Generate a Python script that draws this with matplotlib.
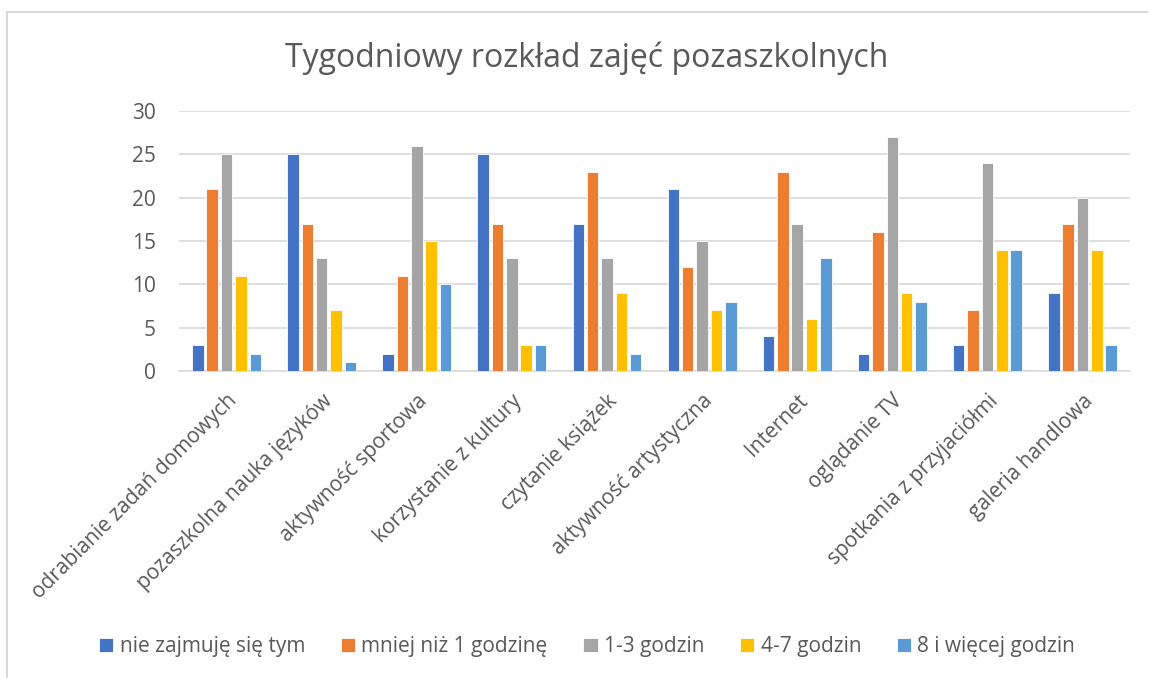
import numpy as np
import matplotlib
matplotlib.use("Agg")
from matplotlib import pyplot as plt
from matplotlib.lines import Line2D

# Categories and series
categories = [
    "odrabianie zadań domowych",
    "pozaszkolna nauka języków",
    "aktywność sportowa",
    "korzystanie z kultury",
    "czytanie książek",
    "aktywność artystyczna",
    "Internet",
    "oglądanie TV",
    "spotkania z przyjaciółmi",
    "galeria handlowa",
]
series_names = [
    "nie zajmuję się tym",
    "mniej niż 1 godzinę",
    "1-3 godzin",
    "4-7 godzin",
    "8 i więcej godzin",
]
nie_zajmuje = [3, 25, 2, 25, 17, 21, 4, 2, 3, 9]
mniej_1h = [21, 17, 11, 17, 23, 12, 23, 16, 7, 17]
godz_1_3 = [25, 13, 26, 13, 13, 15, 17, 27, 24, 20]
godz_4_7 = [11, 7, 15, 3, 9, 7, 6, 9, 14, 14]
godz_8 = [2, 1, 10, 3, 2, 8, 13, 8, 14, 3]
yticks = [0, 5, 10, 15, 20, 25, 30]

series = [nie_zajmuje, mniej_1h, godz_1_3, godz_4_7, godz_8]
colors = ["#4472C4", "#ED7D31", "#A5A5A5", "#FFC000", "#5B9BD5"]

plt.rcParams['font.family'] = ['Open Sans', 'DejaVu Sans']
text_color = "#595959"

fig = plt.figure(figsize=(11.49, 6.78), dpi=100)
ax = fig.add_axes([0.1558, 0.4528, 0.8277, 0.3835])

x = np.arange(len(categories))
step = 0.151
width = 0.121
for i, (vals, col, name) in enumerate(zip(series, colors, series_names)):
    ax.bar(x + (i - 2) * step, vals, width, color=col, label=name,
           edgecolor="white", linewidth=0.6, zorder=3)

# Axes styling
ax.set_xlim(-0.5, len(categories) - 0.5)
ax.set_ylim(0, 30)
ax.set_yticks(yticks)
ax.yaxis.grid(True, color="#D9D9D9", linewidth=1.2, zorder=0)
for side in ['top', 'right', 'left']:
    ax.spines[side].set_visible(False)
ax.spines['bottom'].set_color("#D9D9D9")
ax.spines['bottom'].set_linewidth(1.2)
ax.tick_params(axis='both', length=0, labelsize=15, colors=text_color)
ax.tick_params(axis='y', pad=16.5)
ax.set_xticks(x)
ax.set_xticklabels(categories, rotation=45, ha='right', va='top',
                   rotation_mode='anchor')
ax.tick_params(axis='x', pad=14)

fig.text(0.511, 0.914, "Tygodniowy rozkład zajęć pozaszkolnych",
         ha='center', va='center', fontsize=23, color=text_color)

leg = fig.legend(loc='center', bbox_to_anchor=(0.511, 0.046), ncol=5,
                 frameon=False, fontsize=15, handlelength=0.7,
                 handleheight=0.7, handletextpad=0.3, columnspacing=1.7)
for t in leg.get_texts():
    t.set_color(text_color)

# Chart area border (left and top edges visible in the crop)
fig.add_artist(Line2D([0.0065, 0.0065], [0, 0.982], transform=fig.transFigure,
                      color="#D9D9D9", linewidth=1.5))
fig.add_artist(Line2D([0.0065, 0.998], [0.982, 0.982], transform=fig.transFigure,
                      color="#D9D9D9", linewidth=1.5))

fig.savefig("out.png", dpi=100)
